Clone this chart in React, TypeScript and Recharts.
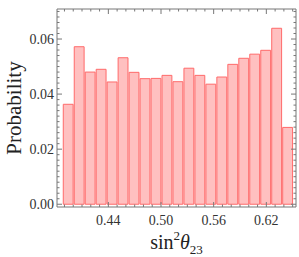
import { BarChart, Bar, XAxis, YAxis } from 'recharts'

// histogram of sin^2(theta_23): bin centres (bin width 0.0125) and probabilities
const binCenters = [
  0.39375, 0.40625, 0.41875, 0.43125, 0.44375, 0.45625, 0.46875,
  0.48125, 0.49375, 0.50625, 0.51875, 0.53125, 0.54375, 0.55625,
  0.56875, 0.58125, 0.59375, 0.60625, 0.61875, 0.63125, 0.64375,
]
const probability = [
  0.0363, 0.0572, 0.048, 0.049, 0.0444, 0.0532, 0.0479,
  0.0456, 0.0457, 0.0468, 0.0445, 0.0494, 0.0468, 0.0436,
  0.0462, 0.0508, 0.053, 0.0545, 0.0559, 0.0639, 0.0279,
]

const xMajor = [0.44, 0.5, 0.56, 0.62]
const xMinor = [
  0.39, 0.4, 0.41, 0.42, 0.43, 0.44, 0.45, 0.46, 0.47, 0.48, 0.49, 0.5, 0.51, 0.52,
  0.53, 0.54, 0.55, 0.56, 0.57, 0.58, 0.59, 0.6, 0.61, 0.62, 0.63, 0.64, 0.65,
]
const yMajor = [0, 0.02, 0.04, 0.06]
const yMinor = [
  0, 0.002, 0.004, 0.006, 0.008, 0.01, 0.012, 0.014, 0.016, 0.018, 0.02, 0.022,
  0.024, 0.026, 0.028, 0.03, 0.032, 0.034, 0.036, 0.038, 0.04, 0.042, 0.044, 0.046,
  0.048, 0.05, 0.052, 0.054, 0.056, 0.058, 0.06, 0.062, 0.064, 0.066, 0.068, 0.07,
]

const data = binCenters.map((x, i) => ({ x, p: probability[i] }))

const xDomain = [0.3815, 0.6538]
const yDomain = [-0.001, 0.0709]
const frame = '#777'
const font = '"Liberation Serif", "DejaVu Serif", serif'

const isMajor = (v: number, majors: number[]) => majors.some(m => Math.abs(m - v) < 1e-6)

const BottomTick = ({ x, y, payload }: any) => {
  const major = isMajor(payload.value, xMajor)
  return (
    <g>
      <line x1={x} x2={x} y1={y} y2={y - (major ? 5 : 2.5)} stroke={frame} />
      {major && (
        <text x={x} y={y + 18} textAnchor="middle" fontSize={14} fontFamily={font} fill="#333">
          {payload.value.toFixed(2)}
        </text>
      )}
    </g>
  )
}

const TopTick = ({ x, y, payload }: any) => {
  const major = isMajor(payload.value, xMajor)
  return <line x1={x} x2={x} y1={y} y2={y + (major ? 5 : 2.5)} stroke={frame} />
}

const LeftTick = ({ x, y, payload }: any) => {
  const major = isMajor(payload.value, yMajor)
  return (
    <g>
      <line x1={x} x2={x + (major ? 5 : 2.5)} y1={y} y2={y} stroke={frame} />
      {major && (
        <text x={x - 3} y={y + 5} textAnchor="end" fontSize={14} fontFamily={font} fill="#333">
          {payload.value.toFixed(2)}
        </text>
      )}
    </g>
  )
}

const RightTick = ({ x, y, payload }: any) => {
  const major = isMajor(payload.value, yMajor)
  return <line x1={x} x2={x - (major ? 5 : 2.5)} y1={y} y2={y} stroke={frame} />
}

const XTitle = ({ viewBox }: any) => {
  const cx = viewBox.x + viewBox.width / 2
  return (
    <text x={cx} y={249} textAnchor="middle" fontSize={20} fontFamily={font} fill="#222">
      <tspan>sin</tspan>
      <tspan dy={-9} fontSize={13}>2</tspan>
      <tspan dy={9} fontStyle="italic">θ</tspan>
      <tspan dy={5} fontSize={13}>23</tspan>
    </text>
  )
}

const YTitle = ({ viewBox }: any) => {
  const cy = viewBox.y + viewBox.height / 2
  return (
    <text
      transform={`translate(21, ${cy}) rotate(-90)`}
      textAnchor="middle"
      fontSize={21}
      fontFamily={font}
      fill="#222"
    >
      Probability
    </text>
  )
}

const App = () => {
  return (
    <div style={{ position: 'absolute', left: 0, top: 0 }}>
      <BarChart
        width={299}
        height={257}
        data={data}
        margin={{ top: 8, right: 2, bottom: 0, left: 0 }}
        barCategoryGap={0}
        barGap={0}
      >
        <XAxis
          xAxisId="num"
          dataKey="x"
          type="number"
          domain={xDomain}
          allowDataOverflow
          ticks={xMinor}
          interval={0}
          height={50}
          tickSize={0}
          tickMargin={0}
          tickLine={false}
          tick={<BottomTick />}
          axisLine={{ stroke: frame }}
          label={<XTitle />}
        />
        <XAxis
          xAxisId="top"
          dataKey="x"
          orientation="top"
          type="number"
          domain={xDomain}
          allowDataOverflow
          ticks={xMinor}
          interval={0}
          height={1}
          tickSize={0}
          tickMargin={0}
          tickLine={false}
          tick={<TopTick />}
          axisLine={{ stroke: frame }}
        />
        <YAxis
          yAxisId="left"
          type="number"
          domain={yDomain}
          allowDataOverflow
          ticks={yMinor}
          interval={0}
          width={57}
          tickSize={0}
          tickMargin={0}
          tickLine={false}
          tick={<LeftTick />}
          axisLine={{ stroke: frame }}
          label={<YTitle />}
        />
        <YAxis
          yAxisId="right"
          orientation="right"
          type="number"
          domain={yDomain}
          allowDataOverflow
          ticks={yMinor}
          interval={0}
          width={1}
          tickSize={0}
          tickMargin={0}
          tickLine={false}
          tick={<RightTick />}
          axisLine={{ stroke: frame }}
        />
        <Bar
          xAxisId="num"
          yAxisId="left"
          dataKey="p"
          barSize={11}
          fill="#FFC0C0"
          stroke="#FF6A6A"
          strokeWidth={1}
          isAnimationActive={false}
        />
      </BarChart>
    </div>
  )
}

export default App
